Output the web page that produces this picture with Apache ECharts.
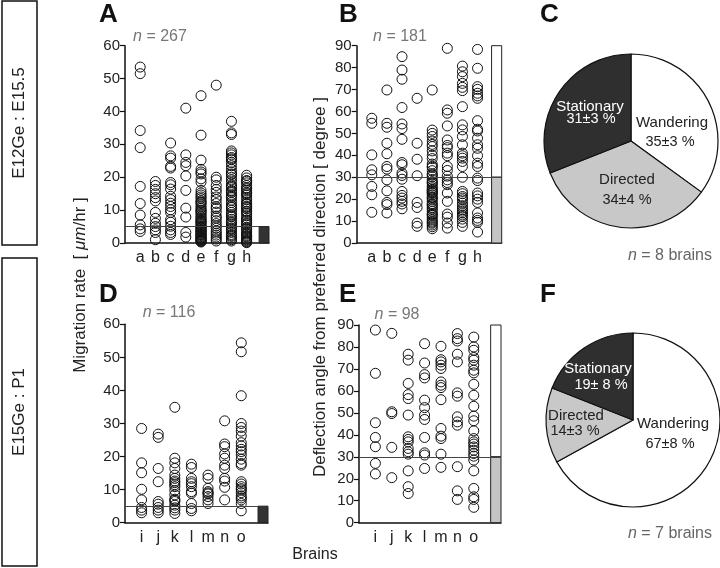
<!DOCTYPE html>
<html><head><meta charset="utf-8">
<script src="https://cdn.jsdelivr.net/npm/echarts@6/dist/echarts.min.js"></script>
<style>html,body{margin:0;padding:0;background:#fff}#c{width:720px;height:568px}</style>
</head><body><div id="c"></div>
<script>
// ---------- DATA ----------
const brainsE12 = ['a','b','c','d','e','f','g','h'];
const brainsE15 = ['i','j','k','l','m','n','o'];
const rateTicks = [0,10,20,30,40,50,60];
const angleTicks = [0,10,20,30,40,50,60,70,80,90];

// Panel A: migration rate (µm/hr), E12Ge:E15.5, one list per brain
const rateE12 = [
  [53.5, 51.5, 34.2, 29, 17.2, 12, 8.5, 5.5, 4.3, 3.5],
  [18.7, 17.5, 16.3, 15, 13.8, 12.8, 9.3, 7.5, 6, 5, 4, 3.2, 1.0],
  [30.4, 26.5, 25.8, 23.3, 22.8, 18.4, 17.7, 16.4, 14.2, 13.2, 12.1, 11.1, 10.1, 9.3, 7.1, 6.3, 5.1, 4.0, 3.2, 2.6],
  [41, 26.8, 24.5, 23.5, 20.4, 16, 10.6, 7.9, 3.2, 1.8],
  [44.8, 32.8, 25.2, 22.4, 21.6, 21, 19.5, 18.5, 16, 15.2, 14.6, 14, 13.5, 12.8, 12.2, 11.6, 11, 10.5, 10, 9.4, 9, 8.5, 8, 7.6, 7.2, 6.8, 6.3, 6, 5.6, 5.2, 4.8, 4.5, 4.1, 3.8, 3.5, 3.2, 2.9, 2.6, 2.3, 2, 1.8, 1.5, 1.2, 1, 0.8, 0.5, 0.3, 2.5, 4.7, 6.6, 9.8, 12.4, 3.6, 1.4, 0.6],
  [48, 20, 19.2, 17.5, 16.3, 15.4, 14, 13.2, 12, 11, 10.5, 9.4, 8.2, 7.6, 6.8, 5.9, 5.2, 4.5, 3.6, 3, 2.4, 1.8, 1.2, 0.6],
  [37, 33.5, 33, 28, 27.4, 26.8, 26, 25.3, 24.5, 23.5, 22.4, 21.6, 20.8, 20, 19.2, 18.4, 17.6, 16.8, 16, 15.3, 14.6, 13.8, 13, 12.3, 11.5, 10.8, 10, 9.3, 8.6, 7.9, 7.2, 6.5, 5.8, 5.1, 4.5, 3.8, 3.2, 2.6, 2, 1.5, 1, 0.6, 25.6, 21, 17.2, 14.2, 11, 8.2, 4.2, 2.3, 6.2, 15.7],
  [20.6, 19.8, 19, 18.3, 17.5, 16.8, 16, 15.3, 14.6, 13.9, 13.2, 12.5, 11.8, 11.1, 10.4, 9.7, 9, 8.3, 7.6, 6.9, 6.2, 5.5, 4.8, 4.1, 3.4, 2.7, 2, 1.4, 0.8, 0.3, 18.8, 15, 12, 9.5, 7, 4.5, 2.3, 1, 0.5, 16.5, 10.8, 5.8, 3, 1.8, 0.1]
];
// Panel B: deflection angle (degree), E12Ge:E15.5
const angleE12 = [
  [56.9, 54.6, 40.2, 33.4, 31.1, 25.8, 22, 14],
  [69.8, 54.6, 52.8, 45.5, 40.7, 34.9, 33.7, 28.8, 23.8, 18.5, 17.5, 13.7],
  [85, 78.9, 74.7, 61.8, 54.3, 52.2, 47.3, 36.7, 35.7, 31.9, 30.8, 29.1, 23.5, 21.7, 20.5, 19, 17.8, 15.6],
  [66, 45.5, 38.2, 30.7, 18.5, 16.2, 9.1, 7.6],
  [69.8, 51.5, 50, 48.6, 46.5, 44, 42, 40, 38.5, 36, 34.5, 33, 31.5, 30.2, 29, 28, 27, 26, 25.2, 24.5, 23.6, 22.8, 22, 21, 20, 19, 18, 17, 16.2, 15.5, 14.5, 13.5, 12.6, 11.7, 10.8, 10, 9, 8.2, 7.4, 6.5, 27.6, 24, 20.6, 17.5, 13, 9.5, 31, 35, 45, 23],
  [88.8, 60.7, 59.2, 53.4, 47, 44.5, 43.5, 41, 39.8, 34.9, 33.1, 30.5, 28.8, 27.6, 26.6, 22.8, 19, 13.2, 11.8, 9.1, 6.8],
  [80.7, 78.1, 75.9, 72.8, 71, 69.5, 62.2, 53.9, 51.6, 48.6, 44.8, 41, 39.8, 38.7, 37.2, 34.9, 30, 23.5, 22.5, 21.2, 19.7, 18.2, 17, 16, 15.2, 13.7, 12.8, 12.1, 10.9, 9.4, 7.6, 20.5, 14.5],
  [88.3, 79.7, 71.3, 70.1, 68.3, 67.1, 66, 55.8, 51.9, 51.1, 47.8, 44.8, 43.2, 39.8, 36.4, 34.9, 29.6, 28.5, 22.8, 21.5, 20, 18.5, 13.7, 11.4, 10.3, 9.4, 5]
];
// Panel D: migration rate, E15Ge:P1
const rateE15 = [
  [28.5, 18.1, 15.1, 10.1, 6.9, 4.6, 3.8, 3.0],
  [26.8, 25.8, 16.4, 12.4, 6.4, 5.6, 4.6, 3.8, 3.0],
  [34.9, 19.5, 18.1, 16.4, 14.4, 13.4, 12.6, 12.1, 10.9, 9.7, 8.4, 7.1, 6.4, 5.3, 4.5, 3.8, 2.8, 11.5, 6.8],
  [17.7, 16.7, 13.4, 12.4, 10.9, 9.4, 8.9, 5.8, 4.3, 3.6, 11.8],
  [14.4, 13.4, 10.4, 9.4, 8.7, 7.9, 6.9, 5.8, 9.0],
  [30.8, 23.8, 23, 20.8, 19.5, 17.4, 16.4, 13.4, 12.6, 10.7, 6.9],
  [54.4, 51.7, 38.4, 30, 28.8, 27.7, 26.2, 24.2, 23.2, 22.2, 21.5, 20.5, 19.2, 17.9, 17.4, 12.4, 11.7, 10.9, 10.3, 9.9, 9.1, 8.1, 7.5, 6.9, 5.8, 3.6]
];
// Panel E: deflection angle, E15Ge:P1
const angleE15 = [
  [87.7, 68, 45.5, 38.8, 34.6, 27, 22.2],
  [86.2, 50.5, 49.7, 34.3, 20.5],
  [76.7, 74, 63.4, 58.3, 56.5, 49, 39.1, 37.9, 36.8, 33.8, 32.3, 31.2, 23.6, 16.4, 13.3],
  [81.5, 72.7, 67.4, 65.9, 55.8, 52.4, 49, 47, 38.8, 31.8, 30.8, 24.7],
  [80.3, 74.2, 73.2, 71.7, 70.2, 64.1, 62.6, 61.5, 56, 42.9, 39.4, 38.3, 31.2, 25.2],
  [86.1, 83.8, 82.7, 76.7, 73.2, 59.1, 57.6, 48.2, 45.9, 44.4, 25.5, 14.5, 10.6],
  [84.5, 80, 78.5, 75.2, 74, 71.7, 69.4, 68.2, 63, 58, 53, 48.5, 46.4, 41.8, 38.3, 36.8, 35.8, 34.5, 33, 31.5, 30.3, 28.5, 23.6, 15.6, 11.8, 10.6, 7]
];
const nCells = ['267', '181', '116', '98'];
const rateThreshold = 5;
const angleThreshold = 30;

// Pies
const pieCategories = ['Wandering', 'Directed', 'Stationary'];
const pieE12 = [35, 34, 31];
const pieE12Err = [3, 4, 3];
const pieE15 = [67, 14, 19];
const pieE15Err = [8, 3, 8];
const brainCounts = [8, 7];

// ---------- CHART ----------
const chart = echarts.init(document.getElementById('c'), null, {renderer: 'canvas'});
const FONT = 'Helvetica, Arial, "Liberation Sans", sans-serif';

const panels = [
  {l:125, t:45.7, w:144, h:197.3, xMax:9.47, barX:8.82, yMax:60, ticks:rateTicks, cats:brainsE12, vals:rateE12, thr:rateThreshold, kind:'rate'},
  {l:356.7, t:45.7, w:145, h:197.3, xMax:9.6, barX:8.93, yMax:90, ticks:angleTicks, cats:brainsE12, vals:angleE12, thr:angleThreshold, kind:'angle', barTop:92},
  {l:125, t:324.3, w:143, h:198.4, xMax:8.61, barX:8.01, yMax:60, ticks:rateTicks, cats:brainsE15, vals:rateE15, thr:rateThreshold, kind:'rate'},
  {l:359, t:325, w:142, h:197.7, xMax:8.66, barX:8.03, yMax:90, ticks:angleTicks, cats:brainsE15, vals:angleE15, thr:angleThreshold, kind:'angle', barTop:92.5}
];

const grids = [], xAxes = [], yAxes = [], series = [];
panels.forEach((p, i) => {
  grids.push({left:p.l, top:p.t, width:p.w, height:p.h, containLabel:false});
  xAxes.push({
    type:'value', gridIndex:i, min:0, max:p.xMax, interval:1,
    axisLine:{show:true, onZero:false, lineStyle:{color:'#111', width:1.5}},
    axisTick:{show:false}, splitLine:{show:false},
    axisLabel:{margin:7, fontSize:16, color:'#222', fontFamily:FONT,
      formatter:(v)=>{ const k = Math.round(v); return (Math.abs(v-k)<1e-6 && k>=1 && k<=p.cats.length) ? p.cats[k-1] : ''; },
      showMinLabel:false, showMaxLabel:false}
  });
  yAxes.push({
    type:'value', gridIndex:i, min:0, max:p.yMax, interval:10,
    axisLine:{show:true, lineStyle:{color:'#111', width:1.5}},
    axisTick:{show:true, length:5, lineStyle:{color:'#111', width:1.2}},
    splitLine:{show:false},
    axisLabel:{margin:5, fontSize:15, color:'#222', fontFamily:FONT,
      formatter:(v)=> p.ticks.indexOf(v) >= 0 ? String(v) : ''}
  });
  const data = [];
  p.vals.forEach((list, ci) => list.forEach(v => data.push([ci+1, v])));
  let areas;
  if (p.kind === 'rate') {
    areas = [[{coord:[p.barX, 0], itemStyle:{color:'#333333', borderColor:'#222', borderWidth:1}}, {coord:[p.xMax, p.thr]}]];
  } else {
    areas = [
      [{coord:[p.barX, p.thr], itemStyle:{color:'#ffffff', borderColor:'#222', borderWidth:1}}, {coord:[p.xMax, p.barTop]}],
      [{coord:[p.barX, 0], itemStyle:{color:'#c4c4c4', borderColor:'#222', borderWidth:1}}, {coord:[p.xMax, p.thr]}]
    ];
  }
  series.push({
    type:'scatter', xAxisIndex:i, yAxisIndex:i, data:data, clip:false,
    symbol:'circle', symbolSize:10,
    itemStyle:{color:'rgba(255,255,255,0)', borderColor:'#111', borderWidth:1, opacity:1},
    emphasis:{disabled:true},
    markLine:{silent:true, symbol:['none','none'], label:{show:false},
      lineStyle:{color:'#444', width:1, type:'solid'},
      data:[[{coord:[0, p.thr]}, {coord:[p.kind==='rate' ? p.barX : p.xMax, p.thr]}]]},
    markArea:{silent:true, label:{show:false}, data:areas}
  });
});

function pieSeries(vals, center) {
  const colors = ['#ffffff', '#c8c8c8', '#2f2f2f'];
  return {
    type:'pie', center:center, radius:87, startAngle:90, clockwise:true,
    label:{show:false}, labelLine:{show:false}, silent:true,
    itemStyle:{borderColor:'#111', borderWidth:1.2},
    data: pieCategories.map((c, i) => ({name:c, value:vals[i], itemStyle:{color:colors[i]}}))
  };
}
series.push(pieSeries(pieE12, [631, 141]));
series.push(pieSeries(pieE15, [633, 420]));

function txt(x, y, text, opts) {
  opts = opts || {};
  const align = opts.align || 'center';
  return {
    type:'text', x:x, y:y, rotation:opts.rotation || 0, silent:true, z:100,
    style:{text:text, font:opts.font || ('16px ' + FONT), fill:opts.fill || '#222',
      align:align, textAlign:align, verticalAlign:'middle', textVerticalAlign:'middle',
      rich:opts.rich}
  };
}
const italicRich = (size, color) => ({i:{fontStyle:'italic', fontSize:size, fontFamily:FONT, fill:color, color:color}, r:{fontSize:size, fontFamily:FONT, fill:color, color:color}});

const pct = (v, e) => v + '\u00b1' + e + ' %';
const LF = '15px ' + FONT;
const PF = '14.5px ' + FONT;
const graphics = [
  {type:'rect', shape:{x:2, y:1, width:35, height:244}, style:{fill:'#fff', stroke:'#111', lineWidth:1.5}, silent:true},
  {type:'rect', shape:{x:2, y:258, width:35, height:308}, style:{fill:'#fff', stroke:'#111', lineWidth:1.5}, silent:true},
  txt(19.5, 123, 'E12Ge : E15.5', {rotation:Math.PI/2, font:'17px ' + FONT}),
  txt(19.5, 412, 'E15Ge : P1', {rotation:Math.PI/2, font:'17px ' + FONT}),
  txt(80, 285, '{r|Migration rate  [ }{i|\u03bcm}{r|/hr ]}', {rotation:Math.PI/2, rich:italicRich(17, '#222')}),
  txt(320, 287, 'Deflection angle from preferred direction [ degree ]', {rotation:Math.PI/2, font:'17px ' + FONT}),
  txt(315, 555, 'Brains', {font:'16px ' + FONT}),
  txt(99, 15, 'A', {align:'left', font:'bold 26px ' + FONT, fill:'#111'}),
  txt(339, 15, 'B', {align:'left', font:'bold 26px ' + FONT, fill:'#111'}),
  txt(540, 15, 'C', {align:'left', font:'bold 26px ' + FONT, fill:'#111'}),
  txt(99, 295, 'D', {align:'left', font:'bold 26px ' + FONT, fill:'#111'}),
  txt(339, 295, 'E', {align:'left', font:'bold 26px ' + FONT, fill:'#111'}),
  txt(540, 295, 'F', {align:'left', font:'bold 26px ' + FONT, fill:'#111'}),
  txt(160, 37, '{i|n}{r| = ' + nCells[0] + '}', {rich:italicRich(16, '#777')}),
  txt(400, 37, '{i|n}{r| = ' + nCells[1] + '}', {rich:italicRich(16, '#777')}),
  txt(169, 313, '{i|n}{r| = ' + nCells[2] + '}', {rich:italicRich(16, '#777')}),
  txt(397, 315, '{i|n}{r| = ' + nCells[3] + '}', {rich:italicRich(16, '#777')}),
  // pie C labels
  txt(590, 107, pieCategories[2], {fill:'#fff', font:LF}),
  txt(591, 118.5, pct(pieE12[2], pieE12Err[2]), {fill:'#fff', font:PF}),
  txt(672, 123, pieCategories[0], {font:LF}),
  txt(670, 142, pct(pieE12[0], pieE12Err[0]), {font:PF}),
  txt(627, 180, pieCategories[1], {font:LF}),
  txt(627, 199.5, pct(pieE12[1], pieE12Err[1]), {font:PF}),
  txt(712, 256, '{i|n}{r| = ' + brainCounts[0] + ' brains}', {align:'right', rich:italicRich(16, '#666')}),
  // pie F labels
  txt(598, 369, pieCategories[2], {fill:'#fff', font:LF}),
  txt(601, 385, pieE15[2] + '\u00b1 ' + pieE15Err[2] + ' %', {fill:'#fff', font:PF}),
  txt(576, 416, pieCategories[1], {font:LF}),
  txt(575, 430.5, pct(pieE15[1], pieE15Err[1]), {font:PF}),
  txt(673, 424, pieCategories[0], {font:LF}),
  txt(670, 443.5, pct(pieE15[0], pieE15Err[0]), {font:PF}),
  txt(712, 534, '{i|n}{r| = ' + brainCounts[1] + ' brains}', {align:'right', rich:italicRich(16, '#666')})
];

chart.setOption({
  animation:false,
  backgroundColor:'#ffffff',
  grid:grids, xAxis:xAxes, yAxis:yAxes, series:series,
  graphic:{elements:graphics}
});
</script></body></html>
